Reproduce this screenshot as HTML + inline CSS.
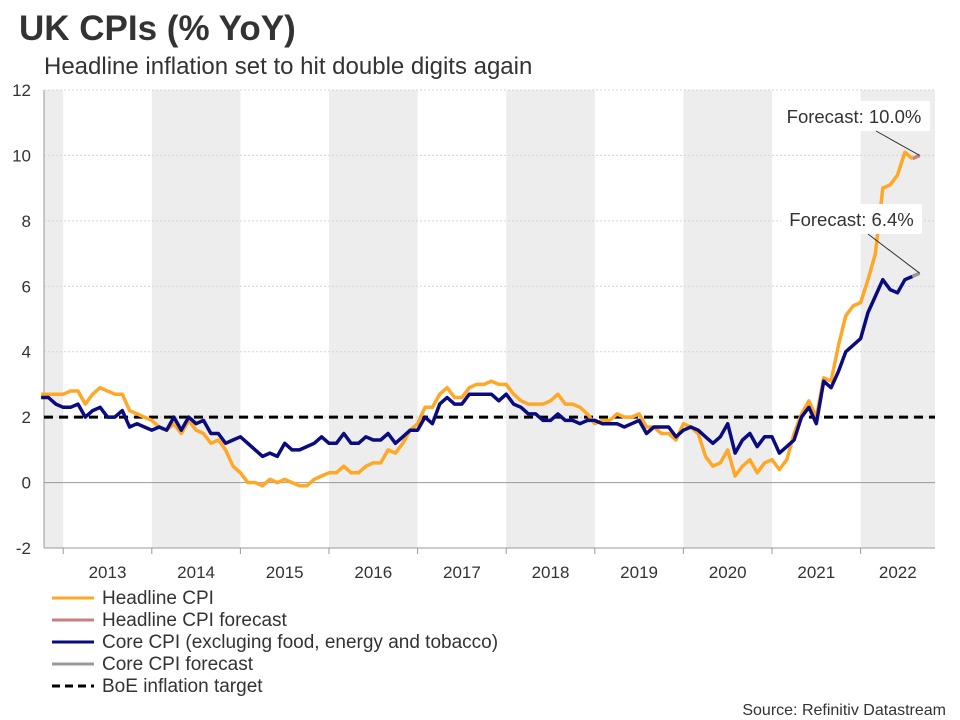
<!DOCTYPE html>
<html><head><meta charset="utf-8"><style>
body{margin:0;background:#fff;width:960px;height:720px;overflow:hidden;font-family:"Liberation Sans",sans-serif}
svg{display:block}
</style></head><body>
<svg id="c" width="960" height="720">
<text x="19" y="40" font-size="35" font-weight="bold" fill="#333">UK CPIs (% YoY)</text>
<text x="44" y="74" font-size="24" fill="#333">Headline inflation set to hit double digits again</text>
<g id="bands"></g><g id="grid"></g><g id="series"></g><g id="ann"></g><g id="legend"></g>
<text x="946" y="715" font-size="16" fill="#333" text-anchor="end">Source: Refinitiv Datastream</text>
</svg>
<script>
const years=[2013,2014,2015,2016,2017,2018,2019,2020,2021,2022];
const yTicks=[-2,0,2,4,6,8,10,12];
const startYear=2012.75; // Oct 2012
const headline=[2.7,2.7,2.7,
2.7,2.8,2.8,2.4,2.7,2.9,2.8,2.7,2.7,2.2,2.1,2.0,
1.9,1.7,1.6,1.8,1.5,1.9,1.6,1.5,1.2,1.3,1.0,0.5,
0.3,0.0,0.0,-0.1,0.1,0.0,0.1,0.0,-0.1,-0.1,0.1,0.2,
0.3,0.3,0.5,0.3,0.3,0.5,0.6,0.6,1.0,0.9,1.2,1.6,
1.8,2.3,2.3,2.7,2.9,2.6,2.6,2.9,3.0,3.0,3.1,3.0,
3.0,2.7,2.5,2.4,2.4,2.4,2.5,2.7,2.4,2.4,2.3,2.1,
1.8,1.9,1.9,2.1,2.0,2.0,2.1,1.7,1.7,1.5,1.5,1.3,
1.8,1.7,1.5,0.8,0.5,0.6,1.0,0.2,0.5,0.7,0.3,0.6,
0.7,0.4,0.7,1.5,2.1,2.5,2.0,3.2,3.1,4.2,5.1,5.4,
5.5,6.2,7.0,9.0,9.1,9.4,10.1,9.9];
const core=[2.6,2.6,2.4,
2.3,2.3,2.4,2.0,2.2,2.3,2.0,2.0,2.2,1.7,1.8,1.7,
1.6,1.7,1.6,2.0,1.6,2.0,1.8,1.9,1.5,1.5,1.2,1.3,
1.4,1.2,1.0,0.8,0.9,0.8,1.2,1.0,1.0,1.1,1.2,1.4,
1.2,1.2,1.5,1.2,1.2,1.4,1.3,1.3,1.5,1.2,1.4,1.6,
1.6,2.0,1.8,2.4,2.6,2.4,2.4,2.7,2.7,2.7,2.7,2.5,
2.7,2.4,2.3,2.1,2.1,1.9,1.9,2.1,1.9,1.9,1.8,1.9,
1.9,1.8,1.8,1.8,1.7,1.8,1.9,1.5,1.7,1.7,1.7,1.4,
1.6,1.7,1.6,1.4,1.2,1.4,1.8,0.9,1.3,1.5,1.1,1.4,
1.4,0.9,1.1,1.3,2.0,2.3,1.8,3.1,2.9,3.4,4.0,4.2,
4.4,5.2,5.7,6.2,5.9,5.8,6.2,6.3];
const headlineForecast=[10.0];
const coreForecast=[6.4];
const target=2;
const NS='http://www.w3.org/2000/svg';
const L=44,R=935,T=90,B=548;
const X=t=>63.2+(t-2013)*88.6;
const Y=v=>T+(12-v)*(B-T)/14;
function mk(tag,attrs,parent){const e=document.createElementNS(NS,tag);for(const k in attrs)e.setAttribute(k,attrs[k]);document.getElementById(parent).appendChild(e);return e;}
const b0=mk('rect',{x:L,y:T,width:X(2013)-L,height:B-T,fill:'#ededed'},'bands');


years.forEach((yr,i)=>{
 if(i%2===1){const r=mk('rect',{x:X(yr),y:T,width:Math.min(X(yr+1),R)-X(yr),height:B-T,fill:'#ededed'},'bands');
 
 }
 const tl=mk('text',{x:(X(yr)+Math.min(X(yr+1),R))/2,y:578,'font-size':17,'text-anchor':'middle',fill:'#333'},'grid');tl.textContent=yr;
 
 
 const tk=mk('line',{x1:X(yr),x2:X(yr),y1:B,y2:B+6,stroke:'#999'},'grid');
 
 
});
yTicks.forEach(v=>{
 const g=mk('line',{x1:L,x2:R,y1:Y(v),y2:Y(v),stroke:v===0?'#999':'#d4d4d4','stroke-dasharray':v===0?'':'2,2','stroke-width':1},'grid');
 
 
 const t=mk('text',{x:31,y:Y(v)+6,'font-size':17,'text-anchor':'end',fill:'#333'},'grid');t.textContent=v;
 
 
});
const ax=mk('line',{x1:L,x2:R,y1:B,y2:B,stroke:'#999'},'grid');


const yax=mk('line',{x1:L,x2:L,y1:T,y2:B,stroke:'#999'},'grid');


function pts(arr,off){return arr.map((v,i)=>X(startYear+(i+off)/12).toFixed(1)+','+Y(v).toFixed(1)).join(' ');}
const tl=mk('line',{x1:L,x2:R,y1:Y(target),y2:Y(target),stroke:'#000','stroke-width':3,'stroke-dasharray':'9,6'},'series');


const n=headline.length;
const hf=mk('polyline',{points:pts([headline[n-1]].concat(headlineForecast),n-1),fill:'none',stroke:'#c97f7f','stroke-width':3.5},'series');


const cf=mk('polyline',{points:pts([core[n-1]].concat(coreForecast),n-1),fill:'none',stroke:'#999','stroke-width':3.5},'series');


const hl=mk('polyline',{points:pts(headline,0),fill:'none',stroke:'#ffa726','stroke-width':3.5,'stroke-linejoin':'round'},'series');


const cl=mk('polyline',{points:pts(core,0),fill:'none',stroke:'#0b0b80','stroke-width':3.5,'stroke-linejoin':'round'},'series');


function ann(label,val,bx,by,bw,lx,name){
 const r=mk('rect',{x:bx,y:by,width:bw,height:30,fill:'#fff'},'ann');
 
 
 const t=mk('text',{x:bx+bw/2,y:by+22,'font-size':18.5,'text-anchor':'middle',fill:'#333'},'ann');t.textContent=label;
 
 
 const l=mk('line',{x1:lx,y1:by+30,x2:X(startYear+n/12),y2:Y(val),stroke:'#333','stroke-width':1},'ann');
 
 
}
ann('Forecast: '+headlineForecast[0].toFixed(1)+'%',headlineForecast[0],778,101,152,876,'headline-forecast-annotation');
ann('Forecast: '+coreForecast[0].toFixed(1)+'%',coreForecast[0],781,204,141,868,'core-forecast-annotation');
const leg=[['Headline CPI','#ffa726',''],['Headline CPI forecast','#c97f7f',''],['Core CPI (excluging food, energy and tobacco)','#0b0b80',''],['Core CPI forecast','#999',''],['BoE inflation target','#000','8,5']];
leg.forEach((e,i)=>{
 const y=598+i*22;
 const l=mk('line',{x1:52,x2:94,y1:y,y2:y,stroke:e[1],'stroke-width':3,'stroke-dasharray':e[2]},'legend');
 
 
 const t=mk('text',{x:102,y:y+6,'font-size':19,fill:'#333'},'legend');t.textContent=e[0];
 
 
});
</script>
</body></html>
